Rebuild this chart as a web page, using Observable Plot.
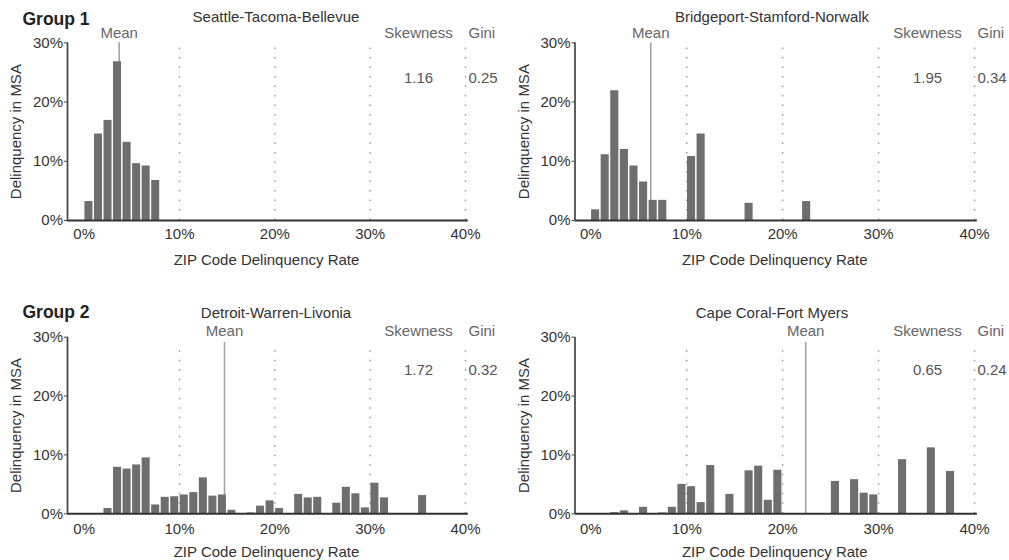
<!DOCTYPE html>
<html>
<head>
<meta charset="utf-8">
<script src="https://cdn.jsdelivr.net/npm/d3@7"></script>
<script src="https://cdn.jsdelivr.net/npm/@observablehq/plot@0.6"></script>
<style>
  html, body { margin: 0; padding: 0; background: #fff; }
  #root { position: relative; width: 1009px; height: 560px; font-family: "Liberation Sans", Arial, Helvetica, sans-serif; }
  .panel { position: absolute; }
  .lbl { position: absolute; transform: translate(-50%, -50%); white-space: nowrap; line-height: 1; }
  .group { position: absolute; transform: translate(0, -50%); font-weight: bold; font-size: 17.5px; color: #222; line-height: 1; white-space: nowrap; }
  .title { font-size: 15px; color: #333; }
</style>
</head>
<body>
<div id="root"></div>
<script>
// ---- data (share of MSA delinquency per 1% ZIP-code delinquency-rate bin, starting at 0%) ----
const msaNames = ["Seattle-Tacoma-Bellevue", "Bridgeport-Stamford-Norwalk", "Detroit-Warren-Livonia", "Cape Coral-Fort Myers"];
const groupLabels = ["Group 1", "Group 2"];
const seattle = [3.2, 14.6, 16.9, 26.8, 13.2, 9.6, 9.2, 6.75];
const bridgeport = [1.8, 11.1, 21.9, 12.0, 9.2, 6.5, 3.4, 3.4, 0, 0, 10.8, 14.6, 0, 0, 0, 0, 2.9, 0, 0, 0, 0, 0, 3.2];
const detroit = [0, 0, 0.9, 7.9, 7.6, 8.3, 9.5, 1.5, 2.8, 2.9, 3.2, 3.6, 6.1, 3.0, 3.2, 0.6, 0, 0.15, 1.3, 2.2, 0.9, 0, 3.3, 2.7, 2.8, 0, 1.8, 4.5, 3.4, 1.0, 5.2, 2.7, 0, 0, 0, 3.1];
const capeCoral = [0, 0, 0.2, 0.5, 0, 1.1, 0, 0.15, 1.1, 5.0, 4.6, 1.9, 8.2, 0, 3.3, 0, 7.3, 8.1, 2.3, 7.4, 0, 0, 0, 0, 0, 5.5, 0, 5.8, 3.5, 3.2, 0, 0, 9.2, 0, 0, 11.2, 0, 7.2];
const means = [3.67, 6.25, 14.72, 22.4];
const skewness = ["1.16", "1.95", "1.72", "0.65"];
const gini = ["0.25", "0.34", "0.32", "0.24"];
const xTicks = [0, 10, 20, 30, 40];
const yTicks = [0, 10, 20, 30];
const gridLines = [10, 20, 30, 40];
const xLabel = "ZIP Code Delinquency Rate";
const yLabel = "Delinquency in MSA";
const series = [seattle, bridgeport, detroit, capeCoral];

// ---- layout ----
const root = document.getElementById("root");
const FONT = '"Liberation Sans", Arial, Helvetica, sans-serif';
const cols = [
  {left: 0, width: 505, marginLeft: 67, marginRight: 40, xmin: -1.75, titleX: 276},
  {left: 505, width: 504, marginLeft: 69.5, marginRight: 35, xmin: -1.65, titleX: 772}
];
const rows = [
  {top: 0, height: 280, marginTop: 42.3, marginBottom: 60, titleY: 16, groupY: 19.5, meanTop: 30, labelDy: -9.5, valueDy: 35, tickPad: 8, xLabDy: 40},
  {top: 294, height: 266, marginTop: 42.7, marginBottom: 46.7, titleY: 312, groupY: 313, meanTop: 29.1, labelDy: -6, valueDy: 32.5, tickPad: 9.5, xLabDy: 38}
];

series.forEach((vals, k) => {
  const r = rows[Math.floor(k / 2)], c = cols[k % 2];
  const bins = vals.map((v, i) => ({x1: i, x2: i + 1, y: v})).filter(d => d.y > 0);
  const svg = Plot.plot({
    width: c.width, height: r.height,
    marginLeft: c.marginLeft, marginRight: c.marginRight,
    marginTop: r.marginTop, marginBottom: r.marginBottom,
    x: {domain: [c.xmin, 40], axis: null},
    y: {domain: [0, 30], axis: null},
    style: {fontFamily: FONT, fontSize: "15px", color: "#333", background: "transparent", overflow: "visible"},
    marks: [
      Plot.ruleX(gridLines, {y1: 0, y2: r.meanTop - 0.6, stroke: "#9a9a9a", strokeWidth: 1.5, strokeDasharray: "1.5,8"}),
      Plot.ruleX([means[k]], {y1: 0, y2: r.meanTop, stroke: "#a3a3a3", strokeWidth: 1.6}),
      Plot.rectY(bins, {x1: "x1", x2: "x2", y: "y", fill: "#6e6e6e", insetLeft: 0.75, insetRight: 0.75}),
      Plot.ruleY([0], {x1: c.xmin, x2: 40.3, stroke: "#333", strokeWidth: 2}),
      Plot.ruleX([c.xmin], {y1: 0, y2: 30, stroke: "#444", strokeWidth: 1.7}),
      Plot.axisY({ticks: yTicks, tickFormat: d => d + "%", tickSize: 3, tickPadding: 1.5, label: null, stroke: "#444"}),
      Plot.axisX({ticks: xTicks, tickFormat: d => d + "%", tickSize: 0, tickPadding: r.tickPad, label: null}),
      Plot.text([yLabel], {text: d => d, frameAnchor: "left", rotate: -90, dx: -51, textAnchor: "middle", lineAnchor: "middle", fill: "#333"}),
      Plot.text([xLabel], {text: d => d, frameAnchor: "bottom", dy: r.xLabDy, lineAnchor: "middle", fill: "#333"}),
      Plot.text([means[k]], {x: d => d, text: () => "Mean", frameAnchor: "top", dy: r.labelDy, lineAnchor: "middle", fill: "#666"}),
      Plot.text(["Skewness"], {text: d => d, frameAnchor: "top-right", dx: -47, dy: r.labelDy, textAnchor: "middle", lineAnchor: "middle", fill: "#666"}),
      Plot.text(["Gini"], {text: d => d, frameAnchor: "top-right", dx: 3, dy: r.labelDy, textAnchor: "start", lineAnchor: "middle", fill: "#666"}),
      Plot.text([skewness[k]], {text: d => d, frameAnchor: "top-right", dx: -47, dy: r.valueDy, textAnchor: "middle", lineAnchor: "middle", fill: "#555"}),
      Plot.text([gini[k]], {text: d => d, frameAnchor: "top-right", dx: 3, dy: r.valueDy, textAnchor: "start", lineAnchor: "middle", fill: "#555"})
    ]
  });
  const wrap = document.createElement("div");
  wrap.className = "panel";
  wrap.style.left = c.left + "px";
  wrap.style.top = r.top + "px";
  wrap.appendChild(svg);
  root.appendChild(wrap);

  const t = document.createElement("div");
  t.className = "lbl title";
  t.style.left = c.titleX + "px";
  t.style.top = r.titleY + "px";
  t.textContent = msaNames[k];
  root.appendChild(t);
});

rows.forEach((r, i) => {
  const g = document.createElement("div");
  g.className = "group";
  g.style.left = "22.5px";
  g.style.top = r.groupY + "px";
  g.textContent = groupLabels[i];
  root.appendChild(g);
});
</script>
</body>
</html>
